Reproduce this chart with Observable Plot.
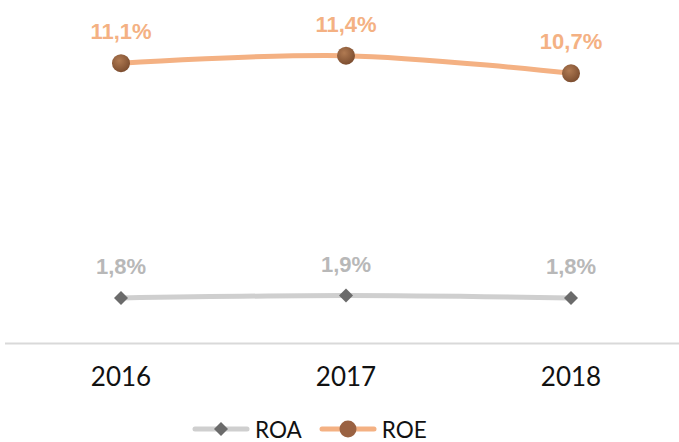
<!DOCTYPE html>
<html><head><meta charset="utf-8">
<script src="https://cdn.jsdelivr.net/npm/d3@7"></script>
<script src="https://cdn.jsdelivr.net/npm/@observablehq/plot@0.6"></script>
<style>
body{margin:0;background:#fff;font-family:Lato,"Open Sans",sans-serif;overflow:hidden;}
#chart{width:679px;height:416px;}
#chart svg{display:block;}
#legend{display:flex;align-items:center;height:26px;padding-left:192px;font-family:Lato,sans-serif;font-size:22.5px;color:#111;}
#legend .item{display:flex;align-items:center;margin-right:17px;}
#legend svg{margin-right:5px;display:block;}
</style></head>
<body><div id="chart"></div><div id="legend"></div>
<script>
const years = ["2016","2017","2018"];
const roa = [1.8, 1.9, 1.8];
const roe = [11.1, 11.4, 10.7];
const roaLabels = ["1,8%","1,9%","1,8%"];
const roeLabels = ["11,1%","11,4%","10,7%"];

const roaData = years.map((y,i)=>({year:y, v:roa[i], label:roaLabels[i]}));
const roeData = years.map((y,i)=>({year:y, v:roe[i], label:roeLabels[i]}));

const ORANGE = "#F4B183", GRAY = "#CFCFCF", GRAYLBL = "#B8B8B8", DIAM = "#6b6b6b";
const LBLFONT = "'Liberation Sans', Arial, Helvetica, sans-serif";

const plot = Plot.plot({
  width: 679, height: 416,
  marginTop: 40, marginBottom: 73, marginLeft: 0, marginRight: 0,
  x: {type:"band", domain: years, padding: 0, range:[7, 684], label:null},
  y: {domain:[0,12], axis:null},
  marks: [
    Plot.ruleY([0], {stroke:"#d9d9d9", strokeWidth:2, insetLeft:5}),
    Plot.axisX({tickSize:0, tickPadding:24, fontSize:26, fill:"#111", fontFamily:"Lato, sans-serif", label:null}),
    Plot.line(roaData, {x:"year", y:"v", stroke:GRAY, strokeWidth:5, curve:"catmull-rom"}),
    Plot.line(roeData, {x:"year", y:"v", stroke:ORANGE, strokeWidth:5, curve:"catmull-rom"}),
    Plot.dot(roaData, {x:"year", y:"v", symbol:"square", r:5.6, rotate:45, fill:DIAM, stroke:"none"}),
    Plot.dot(roeData, {x:"year", y:"v", r:9, fill:"url(#brownGrad)", stroke:"none"}),
    Plot.text(roaData, {x:"year", y:"v", text:"label", dy:-24, lineAnchor:"bottom", fill:GRAYLBL, fontSize:22, fontWeight:"bold", fontFamily:LBLFONT}),
    Plot.text(roeData, {x:"year", y:"v", text:"label", dy:-24, lineAnchor:"bottom", fill:ORANGE, fontSize:22, fontWeight:"bold", fontFamily:LBLFONT})
  ]
});
const defs = d3.select(plot).insert("defs", ":first-child");
const g = defs.append("radialGradient").attr("id","brownGrad").attr("cx","40%").attr("cy","35%").attr("r","65%");
g.append("stop").attr("offset","0%").attr("stop-color","#b07a52");
g.append("stop").attr("offset","100%").attr("stop-color","#7d4e30");
document.getElementById("chart").appendChild(plot);

const legend = d3.select("#legend");
function item(name, color, marker){
  const it = legend.append("div").attr("class","item");
  const s = it.append("svg").attr("width",58).attr("height",20);
  s.append("line").attr("x1",3).attr("x2",55).attr("y1",10).attr("y2",10).attr("stroke",color).attr("stroke-width",5).attr("stroke-linecap","round");
  if(marker==="diamond") s.append("path").attr("d","M29,3L36,10L29,17L22,10Z").attr("fill",DIAM);
  else s.append("circle").attr("cx",29).attr("cy",10).attr("r",8.5).attr("fill","#9a6242");
  it.append("span").text(name);
}
item("ROA", GRAY, "diamond");
item("ROE", ORANGE, "circle");
</script></body></html>
